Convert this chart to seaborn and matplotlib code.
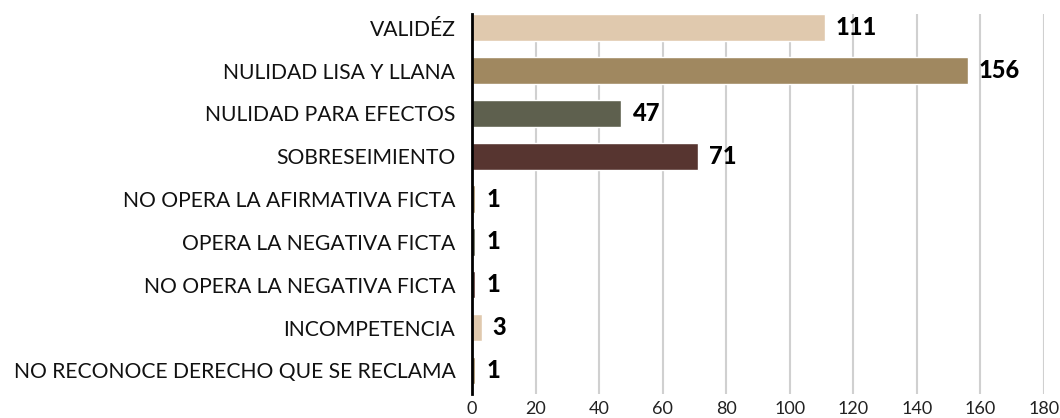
import matplotlib
matplotlib.use("Agg")
import matplotlib.pyplot as plt
import seaborn as sns
import pandas as pd

categories = [
    "VALIDÉZ",
    "NULIDAD LISA Y LLANA",
    "NULIDAD PARA EFECTOS",
    "SOBRESEIMIENTO",
    "NO OPERA LA AFIRMATIVA FICTA",
    "OPERA LA NEGATIVA FICTA",
    "NO OPERA LA NEGATIVA FICTA",
    "INCOMPETENCIA",
    "NO RECONOCE DERECHO QUE SE RECLAMA",
]
values = [111, 156, 47, 71, 1, 1, 1, 3, 1]
bar_colors = ["#E0C9AE", "#A08860", "#5E604E", "#573530",
              "#A08860", "#5E604E", "#573530", "#E0C9AE", "#A08860"]
x_ticks = [0, 20, 40, 60, 80, 100, 120, 140, 160, 180]

sns.set_theme(style="white")
plt.rcParams["font.family"] = ["Lato", "DejaVu Sans"]

df = pd.DataFrame({"cat": categories, "val": values})

fig = plt.figure(figsize=(10.6, 4.18), dpi=100)
ax = fig.add_axes([0.4453, 0.0574, 0.9849 - 0.4453, 0.9665 - 0.0574])

sns.barplot(data=df, y="cat", x="val", hue="cat", palette=bar_colors,
            legend=False, width=0.64, saturation=1, ax=ax, orient="h")

ax.set_xlim(0, 180)
ax.set_ylim(8.55, -0.32)
ax.set_xticks(x_ticks)
ax.set_xticklabels([str(t) for t in x_ticks], fontsize=13, color="#222222")
ax.tick_params(axis="y", labelsize=15.2, colors="#111111", length=0, pad=12)
ax.tick_params(axis="x", length=0, pad=5)
ax.set_xlabel("")
ax.set_ylabel("")
ax.grid(axis="x", color="#d0d0d0", linewidth=1.5)
ax.set_axisbelow(True)
for s in ["top", "right", "bottom"]:
    ax.spines[s].set_visible(False)
ax.spines["left"].set_color("black")
ax.spines["left"].set_linewidth(2)
ax.spines["left"].set_zorder(5)

for i, v in enumerate(values):
    ax.annotate(str(v), xy=(v, i), xytext=(8, 0), textcoords="offset points",
                va="center", ha="left", fontsize=17, fontweight="black",
                color="black")

fig.savefig("out.png", dpi=100)
